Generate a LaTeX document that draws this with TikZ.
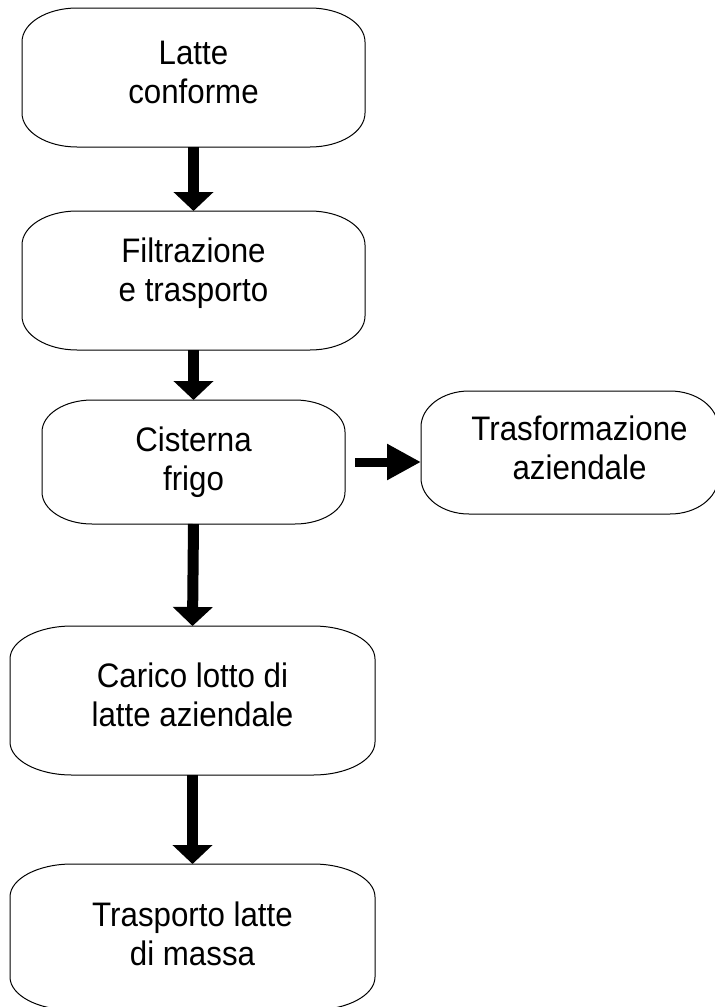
\documentclass[tikz,border=0pt]{standalone}
\usepackage{fontspec}
\setmainfont{Liberation Sans}[FakeStretch=0.92]
\usetikzlibrary{arrows.meta}
\newcommand{\ebox}[3]{%
  \draw[boxline] ([xshift=#2]#1.north west) -- ([xshift=-#2]#1.north east)
    arc[start angle=90,end angle=0,x radius=#2,y radius=#3]
    -- ([yshift=#3]#1.south east)
    arc[start angle=0,end angle=-90,x radius=#2,y radius=#3]
    -- ([xshift=#2]#1.south west)
    arc[start angle=270,end angle=180,x radius=#2,y radius=#3]
    -- ([yshift=-#3]#1.north west)
    arc[start angle=180,end angle=90,x radius=#2,y radius=#3] -- cycle;}
\begin{document}
\begin{tikzpicture}[x=1pt,y=1pt,
  box/.style={draw=none, inner sep=0pt, outer sep=0pt, align=center,
    font=\fontsize{34}{39}\selectfont},
  boxline/.style={draw=black, line width=1pt},
  flow/.style={line width=11pt, -{Triangle[width=39pt,length=19pt]}},
  side/.style={line width=9pt, -{Triangle[width=34pt,length=34pt]}}]
\useasboundingbox (0,0) rectangle (715,-1007);
\node[box, text depth=10pt, minimum width=343pt, minimum height=139pt] (n1) at (193.5,-77.5) {Latte\\conforme};
\node[box, text depth=22pt, minimum width=343pt, minimum height=139pt] (n2) at (193.5,-280.5) {Filtrazione\\e trasporto};
\node[box, minimum width=303pt, minimum height=124pt] (n3) at (193.5,-462) {Cisterna\\frigo};
\node[box, text depth=10pt, minimum width=297pt, minimum height=123pt] (n4) at (569.5,-452.5) {\hspace*{20pt}Trasformazione\\\hspace*{20pt}aziendale};
\node[box, text depth=12pt, minimum width=365pt, minimum height=149pt] (n5) at (192.5,-700.5) {Carico lotto di\\latte aziendale};
\node[box, text depth=6pt, minimum width=365pt, minimum height=146pt] (n6) at (192.5,-937) {Trasporto latte\\di massa};
\ebox{n1}{55pt}{34pt}
\ebox{n2}{55pt}{34pt}
\ebox{n3}{50pt}{32pt}
\ebox{n4}{48pt}{36pt}
\ebox{n5}{62pt}{33pt}
\ebox{n6}{62pt}{33pt}
\draw[flow] (n1.south) -- (n2.north);
\draw[flow] (n2.south) -- (n3.north);
\draw[flow] (n3.south) -- (n5.north);
\draw[flow] (n5.south) -- (n6.north);
\draw[side] ([xshift=10pt]n3.east) -- (n4.west |- n3.east);
\end{tikzpicture}
\end{document}
